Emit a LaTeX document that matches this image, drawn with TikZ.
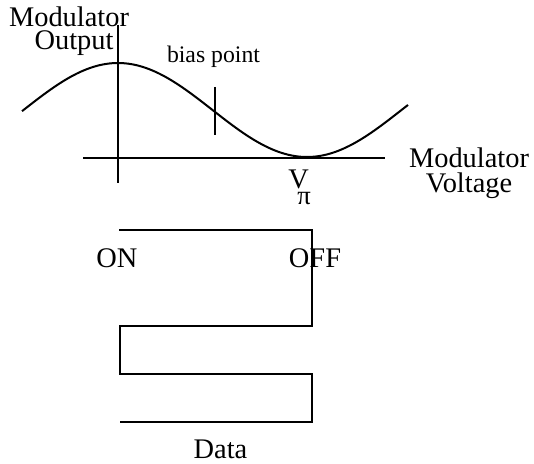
\documentclass[tikz,border=0pt]{standalone}
\usepackage{fontspec}
\setmainfont{Liberation Serif}
\begin{document}
\begin{tikzpicture}[x=0.75pt,y=-0.75pt,
  ln/.style={line width=1.5pt},
  big/.style={font=\fontsize{21.3}{21.3}\selectfont, inner sep=0pt, anchor=base},
  small/.style={font=\fontsize{17.8}{17.8}\selectfont, inner sep=0pt, anchor=base}]
\useasboundingbox (0,0) rectangle (534,463);
% axes
\coordinate (vtop) at (118,25);
\coordinate (vbot) at (118,183);
\coordinate (hl) at (83,158);
\coordinate (hr) at (385,158);
\draw[ln] (vtop) -- (vbot);
\draw[ln] (hl) -- (hr);
% transfer curve
\draw[ln, line join=round] plot[domain=22:408, samples=120, smooth] (\x,{110-47*cos((\x-118)/189*180)});
% bias tick
\coordinate (bt) at (215,87);
\coordinate (bb) at (215,135);
\draw[ln] (bt) -- (bb);
% labels
\node[big] (mod1) at (69,27) {Modulator};
\node[big] (mod2) at (74,50) {Output};
\node[small] (bias) at (213.5,63) {bias point};
\node[big] (mv1) at (469,168) {Modulator};
\node[big] (mv2) at (469,192) {Voltage};
\node[big, anchor=base west] (vpi) at (288,189) {V\kern-0.4em\raisebox{-11.5pt}{\fontsize{20}{20}\selectfont π}};
% data waveform
\draw[ln, line join=miter] (119,230) -- (312,230) -- (312,326) -- (120,326) -- (120,374) -- (312,374) -- (312,422) -- (120,422);
\node[big] (on) at (117,267) {ON};
\node[big] (off) at (315,267) {OFF};
\node[big] (data) at (220.5,458) {Data};
\end{tikzpicture}
\end{document}
